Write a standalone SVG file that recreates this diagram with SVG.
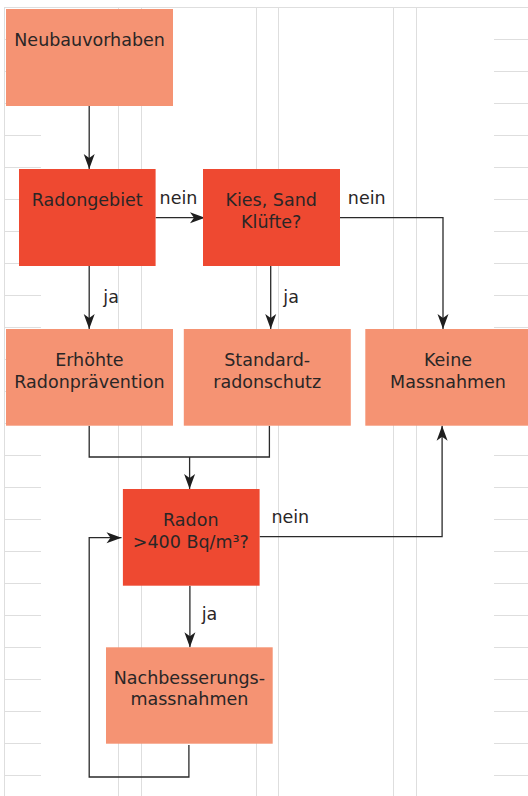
<svg xmlns="http://www.w3.org/2000/svg" width="528" height="796" viewBox="0 0 528 796">
<style>
.grid{stroke:#dedede;stroke-width:1;fill:none}
.light{fill:#f59373}
.dark{fill:#ee4931}
.t{font-family:"DejaVu Sans",sans-serif;font-size:17.5px;fill:#2a2626;text-anchor:middle}
.lbl{font-family:"DejaVu Sans",sans-serif;font-size:17.5px;fill:#2a2626}
.c{stroke:#2a2a2a;stroke-width:1.3;fill:none}
</style>
<defs>
<marker id="arr" viewBox="-16 -7 17 14" refX="0" refY="0" markerWidth="17" markerHeight="14" markerUnits="userSpaceOnUse" orient="auto">
<path d="M0,0 L-15,-5.5 L-11,0 L-15,5.5 Z" fill="#1e1e1e"/>
</marker>
</defs>
<rect width="528" height="796" fill="#ffffff"/>
<g id="grid" class="grid">
<path d="M4,7.5 H528 M4.5,7 V796 M118.5,7 V796 M141.5,7 V796 M256.5,7 V796 M278.5,7 V796 M393.5,7 V796 M416.5,7 V796"/>
<path d="M4,39.5H41M4,71.5H41M4,103.5H41M4,135.5H41M4,167.5H41M4,199.5H41M4,231.5H41M4,263.5H41M4,295.5H41M4,327.5H41M4,359.5H41M4,391.5H41M4,423.5H41M4,455.5H41M4,487.5H41M4,519.5H41M4,551.5H41M4,583.5H41M4,615.5H41M4,647.5H41M4,679.5H41M4,711.5H41M4,743.5H41M4,775.5H41"/>
<path d="M494,39.5H528M494,71.5H528M494,103.5H528M494,135.5H528M494,167.5H528M494,199.5H528M494,231.5H528M494,263.5H528M494,295.5H528M494,327.5H528M494,359.5H528M494,391.5H528M494,423.5H528M494,455.5H528M494,487.5H528M494,519.5H528M494,551.5H528M494,583.5H528M494,615.5H528M494,647.5H528M494,679.5H528M494,711.5H528M494,743.5H528M494,775.5H528"/>
</g>
<g id="connectors">
<path class="c" d="M89.2,106 V169" marker-end="url(#arr)"/>
<path class="c" d="M155.6,217.7 H205" marker-end="url(#arr)"/>
<path class="c" d="M340,217.7 H443 V329" marker-end="url(#arr)"/>
<path class="c" d="M89.2,266 V329" marker-end="url(#arr)"/>
<path class="c" d="M270.7,266 V329" marker-end="url(#arr)"/>
<path class="c" d="M89.2,425.7 V457 H269.4 V425.7"/>
<path class="c" d="M189.6,457 V489" marker-end="url(#arr)"/>
<path class="c" d="M259.6,536.7 H442.1 V425.7" marker-end="url(#arr)"/>
<path class="c" d="M189.9,585.7 V647.3" marker-end="url(#arr)"/>
<path class="c" d="M188.9,745 V777 H89.2 V537.7 H121.5" marker-end="url(#arr)"/>
<text class="lbl" x="159.6" y="204.3">nein</text>
<text class="lbl" x="347.8" y="204">nein</text>
<text class="lbl" x="103.3" y="303.3">ja</text>
<text class="lbl" x="283.3" y="303.3">ja</text>
<text class="lbl" x="271.4" y="523.3">nein</text>
<text class="lbl" x="201.7" y="620">ja</text>
</g>
<g id="neubauvorhaben">
<rect class="light" x="6" y="9" width="167" height="97"/>
<text class="t" x="89.6" y="46">Neubauvorhaben</text>
</g>
<g id="radongebiet">
<rect class="dark" x="19" y="169" width="136.6" height="97"/>
<text class="t" x="87.3" y="205.7">Radongebiet</text>
</g>
<g id="kies">
<rect class="dark" x="203" y="169" width="137" height="97"/>
<text class="t" x="271.2" y="205.7">Kies, Sand</text>
<text class="t" x="271.2" y="227.7">Klüfte?</text>
</g>
<g id="erhoehte">
<rect class="light" x="6" y="329" width="167" height="96.7"/>
<text class="t" x="89.4" y="366">Erhöhte</text>
<text class="t" x="89.4" y="387.7">Radonprävention</text>
</g>
<g id="standard">
<rect class="light" x="183.8" y="329" width="167" height="96.7"/>
<text class="t" x="267.2" y="366">Standard-</text>
<text class="t" x="267.2" y="387.7">radonschutz</text>
</g>
<g id="keine">
<rect class="light" x="365.3" y="329" width="162.7" height="96.7"/>
<text class="t" x="448" y="366">Keine</text>
<text class="t" x="448" y="387.7">Massnahmen</text>
</g>
<g id="radon">
<rect class="dark" x="122.9" y="489" width="136.7" height="96.7"/>
<text class="t" x="190.8" y="525.7">Radon</text>
<text class="t" x="190.8" y="547.7">&gt;400 Bq/m³?</text>
</g>
<g id="nachbesserung">
<rect class="light" x="106" y="647.3" width="166.7" height="96.4"/>
<text class="t" x="189.4" y="684">Nachbesserungs-</text>
<text class="t" x="189.4" y="705">massnahmen</text>
</g>
</svg>
